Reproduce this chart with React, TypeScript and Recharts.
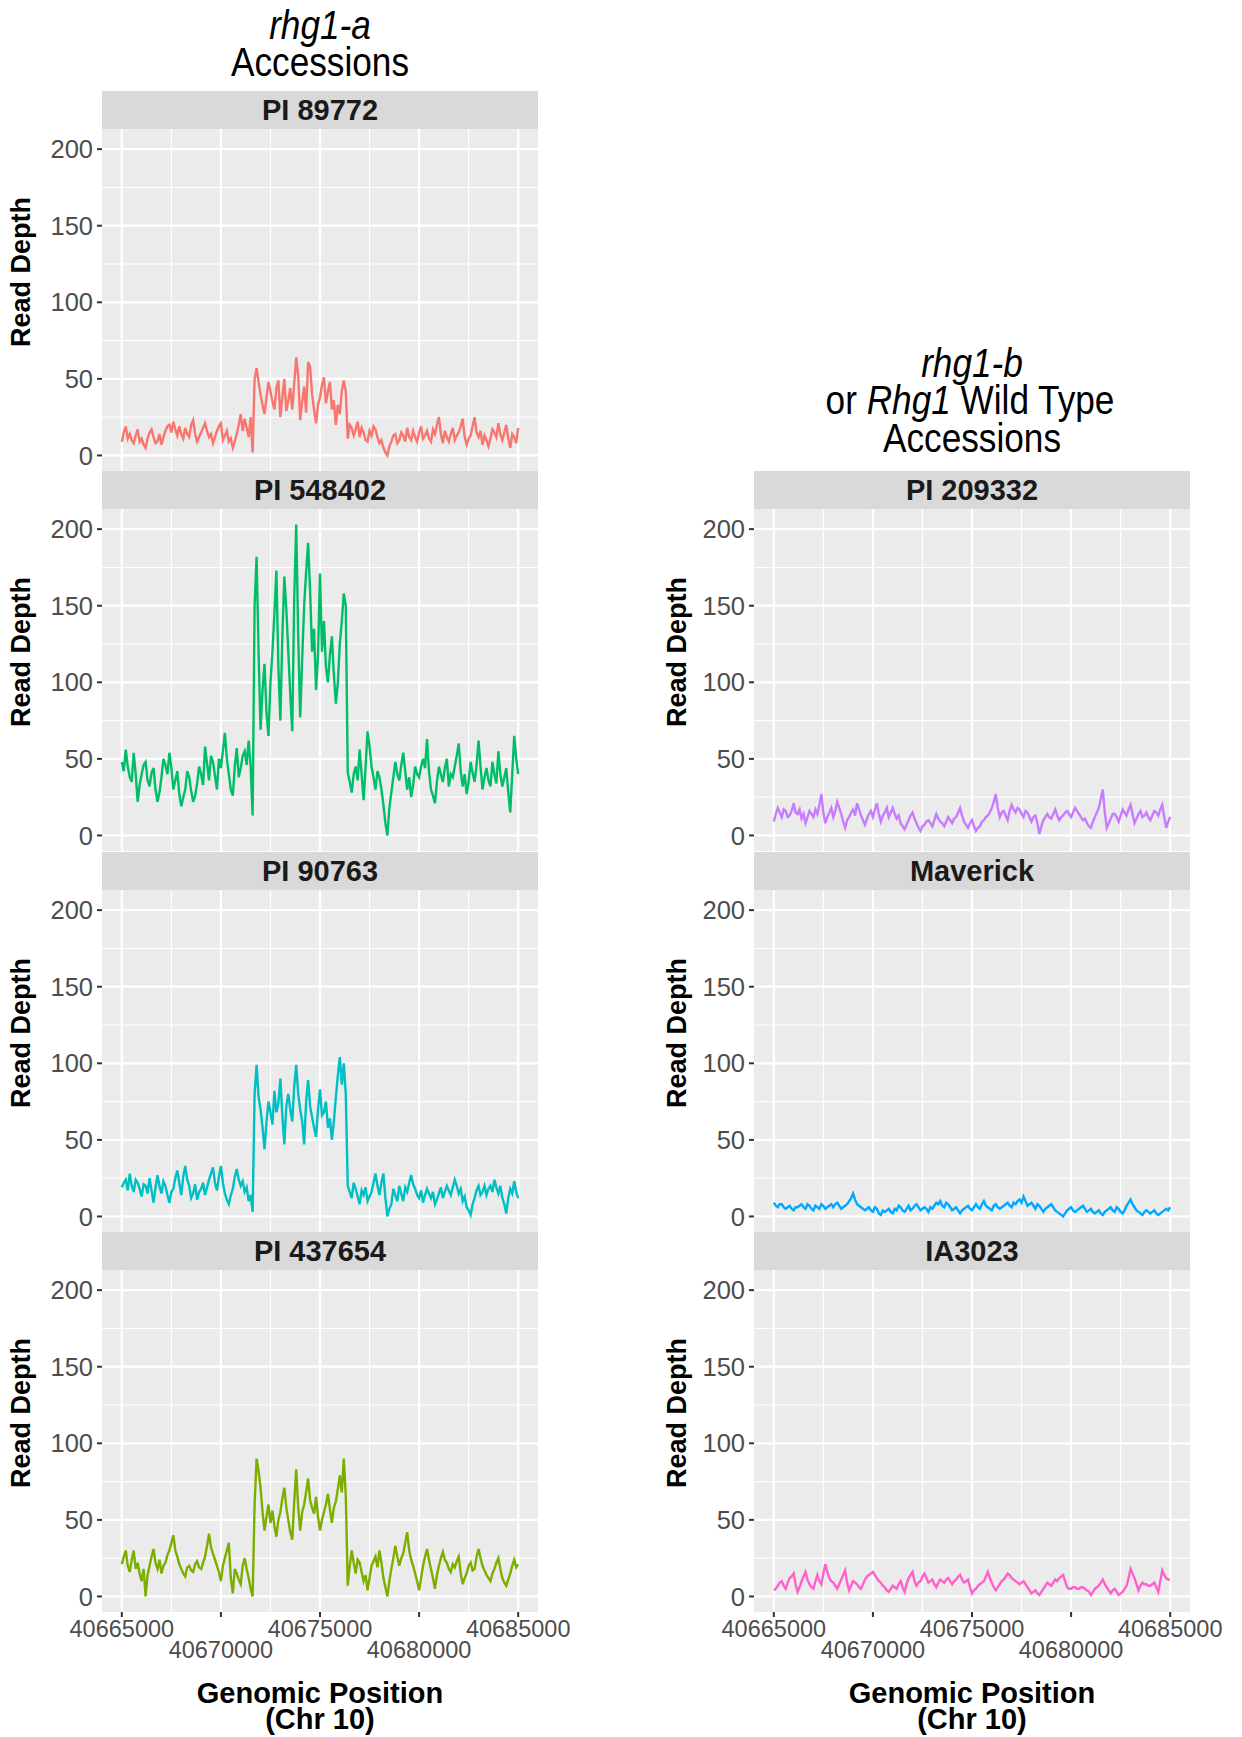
import React from "react";
import { LineChart, Line, XAxis, YAxis, CartesianGrid } from "recharts";

const FONT = "'Liberation Sans', Arial, Helvetica, sans-serif";

// read depth every 100 bp from 40665000 to 40685000
const START = 40665000;
const END = 40685000;
const STEP = 100;

const PI_89772 = [
  9, 15, 19, 11, 14, 10, 8, 13, 17, 9,
  11, 7, 5, 11, 15, 17, 12, 8, 9, 14,
  7, 12, 16, 19, 20, 15, 22, 17, 13, 19,
  14, 11, 18, 14, 12, 20, 23, 14, 9, 12,
  15, 18, 21, 16, 12, 14, 8, 12, 16, 19,
  21, 10, 13, 16, 9, 11, 5, 9, 14, 20,
  27, 16, 24, 18, 12, 25, 2, 50, 57, 48,
  40, 33, 27, 38, 48, 42, 35, 30, 44, 49,
  25, 38, 50, 29, 36, 44, 30, 47, 64, 52,
  23, 35, 45, 28, 61, 58, 40, 30, 21, 33,
  38, 46, 51, 34, 42, 48, 30, 36, 20, 33,
  27, 42, 49, 42, 11, 20, 18, 13, 17, 22,
  12, 18, 15, 10, 9, 16, 13, 19, 17, 12,
  8, 10, 5, 2, 0, 6, 9, 13, 14, 8,
  10, 15, 13, 9, 18, 12, 10, 16, 12, 9,
  15, 19, 11, 13, 16, 11, 9, 17, 14, 20,
  25, 14, 8, 16, 12, 9, 14, 18, 10, 13,
  15, 19, 24, 12, 7, 11, 13, 19, 25, 15,
  12, 16, 7, 13, 10, 6, 11, 17, 15, 12,
  21, 14, 10, 15, 20, 11, 5, 14, 12, 8,
  18,
];

const PI_548402 = [
  48, 42, 56, 45, 38, 35, 54, 40, 22, 33,
  40, 46, 48, 36, 32, 41, 44, 30, 22, 28,
  38, 50, 46, 40, 54, 44, 30, 36, 42, 27,
  19, 25, 30, 42, 38, 29, 22, 26, 34, 45,
  40, 33, 58, 47, 36, 52, 48, 39, 30, 50,
  44, 55, 67, 50, 40, 30, 26, 45, 57, 38,
  44, 52, 55, 46, 62, 45, 13, 150, 182, 120,
  69, 95, 112, 80, 65, 100, 120, 145, 173, 110,
  75, 130, 169, 148, 120, 92, 68, 155, 203, 130,
  77, 115, 150, 172, 191, 160, 120, 135, 95, 118,
  171, 120, 140, 110, 100, 118, 130, 105, 86, 100,
  125, 140, 158, 150, 41, 35, 28, 40, 45, 36,
  56, 40, 23, 45, 68, 58, 45, 38, 30, 42,
  38, 30, 20, 8, 0, 18, 28, 38, 48, 40,
  36, 46, 54, 42, 30, 38, 25, 33, 45, 40,
  38, 45, 50, 44, 63, 42, 30, 26, 21, 35,
  45, 40, 35, 44, 50, 32, 40, 38, 45, 52,
  60, 42, 32, 40, 27, 35, 48, 41, 35, 46,
  62, 45, 30, 38, 44, 36, 32, 48, 40, 34,
  55, 40, 32, 38, 44, 28, 15, 40, 65, 50,
  40,
];

const PI_90763 = [
  19, 22, 24, 17, 28, 20, 16, 24, 22, 18,
  13, 21, 20, 15, 25, 17, 9, 19, 27, 20,
  15, 23, 20, 14, 9, 16, 18, 25, 30, 22,
  14, 26, 33, 24, 20, 12, 15, 21, 11, 16,
  18, 22, 14, 19, 24, 28, 32, 22, 17, 26,
  33, 22, 15, 11, 8, 14, 18, 26, 31, 24,
  20, 23, 16, 19, 10, 14, 3, 80, 99, 78,
  70, 58, 44, 62, 75, 68, 60, 82, 68, 74,
  90, 66, 47, 72, 80, 70, 62, 85, 99, 80,
  70, 62, 47, 75, 89, 72, 65, 58, 52, 70,
  83, 66, 68, 75, 58, 64, 50, 62, 78, 92,
  104, 86, 100, 80, 20, 16, 12, 22, 18, 13,
  8, 17, 14, 19, 10, 13, 16, 22, 28, 20,
  14, 22, 28, 12, 0, 5, 8, 18, 14, 10,
  20, 15, 10, 19, 16, 22, 27, 21, 18, 14,
  12, 17, 9, 14, 18, 15, 12, 16, 8, 11,
  15, 19, 12, 16, 20, 17, 14, 19, 24, 20,
  15, 18, 10, 13, 6, 4, 1, 8, 12, 17,
  20, 14, 16, 20, 14, 18, 20, 16, 24, 19,
  15, 20, 12, 8, 2, 12, 18, 15, 23, 16,
  12,
];

const PI_437654 = [
  21, 26, 30, 20, 16, 24, 30, 18, 22, 15,
  10, 18, 0, 14, 20, 26, 31, 22, 18, 24,
  15, 20, 22, 27, 30, 35, 40, 30, 26, 21,
  18, 15, 13, 19, 20, 17, 16, 21, 23, 19,
  18, 22, 26, 33, 41, 32, 28, 24, 20, 16,
  10, 20, 25, 30, 35, 12, 2, 18, 15, 11,
  8, 20, 25, 18, 12, 5, 0, 60, 90, 82,
  71, 55, 43, 52, 60, 48, 56, 46, 39, 50,
  55, 64, 71, 58, 50, 42, 37, 62, 83, 58,
  43, 55, 60, 68, 77, 63, 58, 54, 65, 52,
  43, 50, 55, 60, 67, 57, 48, 58, 62, 70,
  79, 68, 90, 66, 7, 20, 30, 22, 15, 24,
  22, 16, 10, 14, 4, 12, 20, 23, 26, 19,
  30, 22, 12, 6, 0, 10, 18, 25, 33, 26,
  20, 25, 28, 35, 42, 30, 24, 20, 15, 10,
  4, 12, 20, 26, 31, 24, 18, 12, 5, 14,
  20, 25, 29, 24, 22, 18, 16, 21, 19, 23,
  26, 15, 8, 12, 15, 20, 22, 17, 18, 26,
  31, 25, 20, 17, 14, 12, 10, 15, 18, 22,
  25, 18, 12, 9, 7, 11, 15, 20, 24, 19,
  21,
];

const PI_209332 = [
  9, 14, 18, 15, 12, 17, 16, 12, 13, 16,
  21, 15, 14, 17, 11, 14, 8, 12, 16, 14,
  12, 17, 14, 20, 27, 15, 8, 12, 15, 18,
  12, 16, 22, 18, 14, 9, 5, 10, 12, 15,
  17, 13, 21, 17, 13, 10, 7, 11, 14, 16,
  12, 17, 21, 14, 9, 13, 15, 18, 12, 15,
  18, 14, 11, 13, 8, 6, 4, 7, 10, 13,
  15, 11, 8, 5, 3, 6, 7, 9, 10, 8,
  6, 10, 14, 11, 9, 8, 6, 9, 12, 10,
  8, 11, 12, 15, 18, 13, 9, 7, 5, 8,
  10, 6, 3, 5, 6, 9, 10, 12, 13, 15,
  18, 22, 27, 18, 12, 15, 16, 13, 10, 16,
  20, 17, 15, 18, 17, 14, 12, 16, 15, 12,
  9, 12, 13, 8, 1, 6, 10, 12, 14, 12,
  11, 14, 17, 13, 10, 12, 13, 15, 16, 14,
  12, 15, 18, 16, 14, 12, 10, 11, 8, 6,
  5, 9, 12, 15, 18, 24, 30, 15, 5, 8,
  11, 14, 14, 12, 9, 13, 17, 15, 13, 17,
  20, 14, 8, 11, 14, 16, 12, 13, 15, 12,
  10, 13, 16, 15, 13, 17, 20, 12, 5, 9,
  12,
];

const MAVERICK = [
  9, 7, 6, 8, 8, 6, 5, 6, 7, 5,
  4, 6, 6, 7, 8, 6, 5, 8, 7, 5,
  4, 7, 6, 5, 8, 7, 5, 6, 7, 8,
  6, 8, 9, 7, 5, 6, 7, 8, 10, 12,
  15, 11, 8, 7, 6, 5, 4, 5, 6, 4,
  3, 6, 5, 2, 1, 4, 3, 4, 5, 3,
  2, 5, 4, 7, 6, 4, 3, 5, 7, 4,
  5, 7, 8, 6, 4, 5, 6, 5, 3, 6,
  5, 7, 9, 8, 10, 7, 6, 9, 8, 6,
  4, 5, 6, 4, 2, 4, 5, 6, 7, 5,
  4, 6, 8, 6, 5, 8, 10, 7, 6, 5,
  4, 7, 8, 6, 5, 6, 7, 8, 9, 7,
  6, 9, 8, 10, 11, 9, 13, 10, 7, 8,
  9, 7, 5, 8, 7, 5, 3, 5, 6, 7,
  8, 6, 4, 3, 2, 1, 0, 2, 4, 5,
  6, 4, 3, 4, 5, 6, 7, 5, 3, 4,
  5, 3, 2, 3, 4, 2, 1, 3, 4, 5,
  6, 4, 3, 6, 5, 3, 2, 4, 7, 9,
  11, 8, 6, 4, 3, 2, 1, 3, 4, 3,
  2, 3, 4, 2, 1, 2, 3, 4, 5, 4,
  6,
];

const IA3023 = [
  4, 5, 7, 9, 10, 7, 5, 9, 12, 13,
  15, 8, 3, 6, 10, 13, 16, 11, 8, 6,
  5, 10, 14, 10, 8, 15, 21, 16, 12, 10,
  9, 7, 5, 8, 11, 14, 17, 9, 4, 7,
  10, 9, 8, 6, 5, 8, 11, 13, 14, 15,
  16, 14, 12, 10, 9, 7, 6, 4, 3, 5,
  7, 6, 5, 8, 10, 6, 3, 8, 12, 14,
  16, 10, 7, 9, 10, 13, 15, 12, 9, 10,
  11, 8, 6, 9, 11, 10, 9, 11, 12, 10,
  8, 10, 11, 13, 14, 11, 9, 10, 11, 6,
  2, 4, 5, 7, 8, 9, 10, 13, 16, 12,
  9, 6, 4, 6, 8, 10, 11, 13, 15, 14,
  12, 11, 10, 9, 8, 9, 10, 8, 6, 4,
  2, 3, 4, 2, 1, 3, 5, 7, 9, 8,
  7, 9, 11, 10, 12, 13, 14, 10, 6, 5,
  5, 6, 6, 5, 5, 6, 6, 5, 4, 3,
  1, 3, 5, 6, 7, 9, 11, 8, 6, 4,
  2, 4, 5, 3, 1, 2, 3, 5, 7, 12,
  18, 15, 12, 8, 4, 7, 9, 8, 8, 7,
  7, 8, 9, 6, 3, 10, 17, 14, 12, 11,
  11,
];

const POSITIONS = PI_89772.map((_, i) => START + i * STEP);

const X_TICKS = [40665000, 40670000, 40675000, 40680000, 40685000];
const X_MINOR = [40667500, 40672500, 40677500, 40682500];
const Y_TICKS = [0, 50, 100, 150, 200];
const Y_MINOR = [25, 75, 125, 175];

// layout
const PLOT_W = 436;
const PLOT_H = 342;
const STRIP_H = 38;
const AXIS_W = 60;
const LEFT_X = 102;
const RIGHT_X = 754;
const ROW_TOPS = [91, 471, 852, 1232];

function XTick(props: any) {
  const { x, y, payload, index } = props;
  return (
    <text
      x={x}
      y={y + (index % 2 === 1 ? 41 : 20)}
      textAnchor="middle"
      fill="#4D4D4D"
      fontSize={23.5}
      fontFamily={FONT}
    >
      {payload.value}
    </text>
  );
}

function Panel({ name, values, color, left, top, bottom }: any) {
  const data = POSITIONS.map((pos, i) => ({ pos, depth: values[i] }));
  const extraR = bottom ? 50 : 0;
  return (
    <div style={{ position: "absolute", left: left - AXIS_W, top }}>
      <div
        style={{
          marginLeft: AXIS_W,
          width: PLOT_W,
          height: STRIP_H,
          background: "#D9D9D9",
          color: "#1A1A1A",
          fontFamily: FONT,
          fontWeight: "bold",
          fontSize: 29,
          lineHeight: `${STRIP_H}px`,
          textAlign: "center",
        }}
      >
        {name}
      </div>
      <LineChart
        width={AXIS_W + PLOT_W + extraR}
        height={PLOT_H + (bottom ? 60 : 0)}
        data={data}
        margin={{ top: 0, right: extraR, bottom: 0, left: 0 }}
      >
        <CartesianGrid
          fill="#EBEBEB"
          stroke="#FFFFFF"
          strokeWidth={1.1}
          horizontalValues={Y_MINOR}
          verticalValues={X_MINOR}
        />
        <CartesianGrid
          stroke="#FFFFFF"
          strokeWidth={2.2}
          horizontalValues={Y_TICKS}
          verticalValues={X_TICKS}
        />
        <XAxis
          dataKey="pos"
          type="number"
          domain={[START - 1000, END + 1000]}
          allowDataOverflow
          ticks={X_TICKS}
          interval={0}
          hide={!bottom}
          height={60}
          axisLine={false}
          tickSize={5}
          tickMargin={0}
          tickLine={{ stroke: "#333333", strokeWidth: 2 }}
          tick={<XTick />}
        />
        <YAxis
          type="number"
          domain={[-10.15, 213.15]}
          allowDataOverflow
          ticks={Y_TICKS}
          interval={0}
          width={AXIS_W}
          axisLine={false}
          tickSize={5}
          tickMargin={4}
          tickLine={{ stroke: "#333333", strokeWidth: 2 }}
          tick={{ fill: "#4D4D4D", fontSize: 25.5, fontFamily: FONT }}
        />
        <Line
          type="linear"
          dataKey="depth"
          stroke={color}
          strokeWidth={2.4}
          dot={false}
          isAnimationActive={false}
        />
      </LineChart>
    </div>
  );
}

export default function App() {
  const narrow = "scale(0.88,1)";
  return (
    <div
      style={{
        position: "absolute",
        left: 0,
        top: 0,
        width: 1242,
        height: 1737,
        background: "#FFFFFF",
        fontFamily: FONT,
      }}
    >
      <Panel name="PI 89772" values={PI_89772} color="#F8766D" left={LEFT_X} top={ROW_TOPS[0]} />
      <Panel name="PI 548402" values={PI_548402} color="#00BE67" left={LEFT_X} top={ROW_TOPS[1]} />
      <Panel name="PI 90763" values={PI_90763} color="#00BFC4" left={LEFT_X} top={ROW_TOPS[2]} />
      <Panel name="PI 437654" values={PI_437654} color="#7CAE00" left={LEFT_X} top={ROW_TOPS[3]} bottom />
      <Panel name="PI 209332" values={PI_209332} color="#C77CFF" left={RIGHT_X} top={ROW_TOPS[1]} />
      <Panel name="Maverick" values={MAVERICK} color="#00A9FF" left={RIGHT_X} top={ROW_TOPS[2]} />
      <Panel name="IA3023" values={IA3023} color="#FF61CC" left={RIGHT_X} top={ROW_TOPS[3]} bottom />

      <svg
        width={1242}
        height={1737}
        style={{ position: "absolute", left: 0, top: 0, pointerEvents: "none", overflow: "visible" }}
        fontFamily={FONT}
      >
        {/* column titles */}
        <g textAnchor="middle" fill="#000000" fontSize={40}>
          <text transform={`translate(320,39) ${narrow}`} fontStyle="italic">rhg1-a</text>
          <text transform={`translate(320,76) ${narrow}`}>Accessions</text>
          <text transform={`translate(972,377) ${narrow}`} fontStyle="italic">rhg1-b</text>
          <text transform={`translate(970,414) ${narrow}`}>
            or <tspan fontStyle="italic">Rhg1</tspan> Wild Type
          </text>
          <text transform={`translate(972,452) ${narrow}`}>Accessions</text>
        </g>

        {/* y axis titles */}
        <g textAnchor="middle" fontWeight="bold" fontSize={27} fill="#000000">
          {ROW_TOPS.map((t) => (
            <text key={`l${t}`} transform={`translate(30,${t + 181}) rotate(-90)`}>Read Depth</text>
          ))}
          {ROW_TOPS.slice(1).map((t) => (
            <text key={`r${t}`} transform={`translate(686,${t + 181}) rotate(-90)`}>Read Depth</text>
          ))}
        </g>

        {/* x axis titles */}
        <g textAnchor="middle" fontWeight="bold" fontSize={29} fill="#000000">
          <text x={LEFT_X + PLOT_W / 2} y={1703}>Genomic Position</text>
          <text x={LEFT_X + PLOT_W / 2} y={1729}>(Chr 10)</text>
          <text x={RIGHT_X + PLOT_W / 2} y={1703}>Genomic Position</text>
          <text x={RIGHT_X + PLOT_W / 2} y={1729}>(Chr 10)</text>
        </g>
      </svg>
    </div>
  );
}
